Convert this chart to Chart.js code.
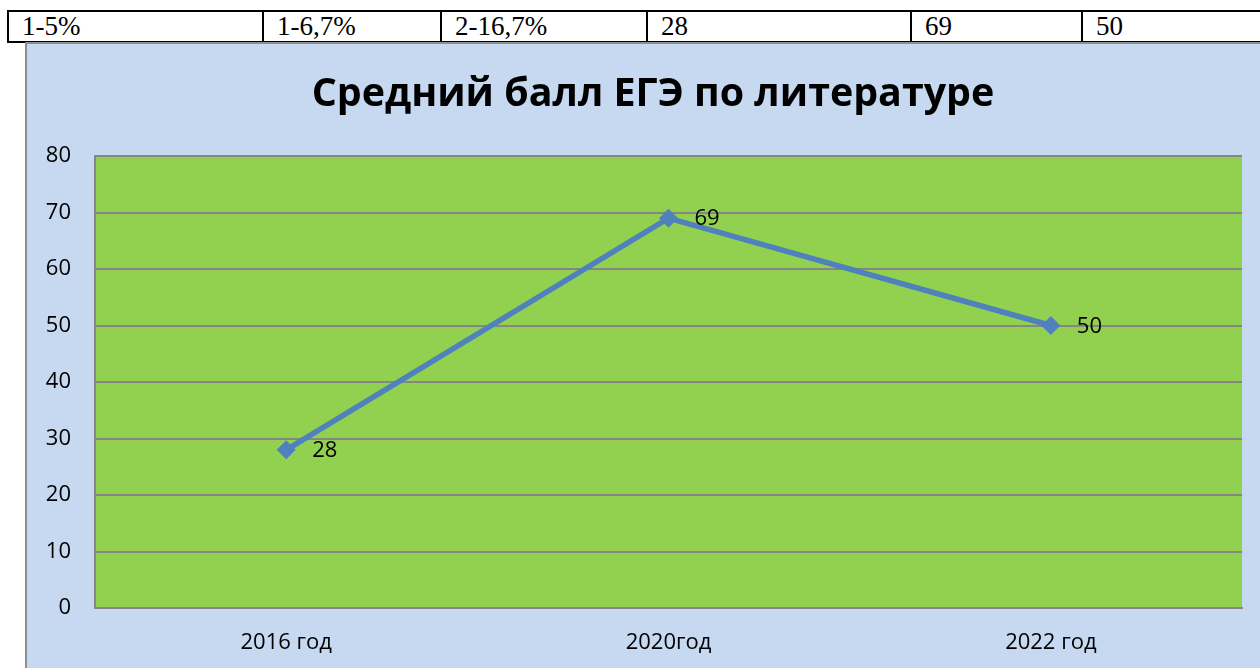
<html>
<head>
<meta charset="utf-8">
<title>Средний балл ЕГЭ по литературе</title>
<script src="https://cdn.jsdelivr.net/npm/chart.js@4"></script>
<style>
  body { margin: 0; background: #fff; overflow: hidden; width: 1260px; height: 668px; position: relative; }
  table.top { position: absolute; left: 7px; top: 10px; width: 1300px; border-collapse: collapse;
    font-family: "Liberation Serif", "Times New Roman", serif; font-size: 27px; }
  table.top td { border: 2px solid #000; padding: 0 0 0 13px; height: 29px; line-height: 29px; }
  #box { position: absolute; left: 25px; top: 42px; width: 1320px; height: 700px;
    background: #C6D9F1; border-left: 2px solid #8E8E8E; border-top: 2px solid #8E8E8E; }
  #wrap { position: absolute; left: 0; top: 0; width: 1252px; height: 624px; }
</style>
</head>
<body>
<table class="top">
  <tr>
    <td style="width:240px">1-5%</td>
    <td style="width:163px">1-6,7%</td>
    <td style="width:191px">2-16,7%</td>
    <td style="width:249px">28</td>
    <td style="width:156px">69</td>
    <td>50</td>
  </tr>
</table>
<div id="box">
  <div id="wrap"><canvas id="egeChart"></canvas></div>
</div>
<script>
var chartTitle = 'Средний балл ЕГЭ по литературе';
var years = ["2016 год", "2020год", "2022 год"];
var scores = [28, 69, 50];
var yMin = 0, yMax = 80, yStep = 10;

// green plot area
var plotBg = {
  id: 'plotBg',
  beforeDraw: function(chart) {
    var a = chart.chartArea, ctx = chart.ctx;
    ctx.save();
    ctx.fillStyle = '#92D050';
    ctx.fillRect(a.left, a.top, a.right - a.left, a.bottom - a.top);
    ctx.restore();
  }
};

// title centred on the whole chart box, not on the padded area
var centerTitle = {
  id: 'centerTitle',
  afterDraw: function(chart) {
    var ctx = chart.ctx;
    ctx.save();
    ctx.font = 'bold 39.4px "Open Sans"';
    ctx.fillStyle = '#000';
    ctx.textAlign = 'center';
    ctx.textBaseline = 'middle';
    ctx.fillText(chartTitle, chart.width / 2, 51);
    ctx.restore();
  }
};

// values to the right of each point
var valueLabels = {
  id: 'valueLabels',
  afterDatasetsDraw: function(chart) {
    var ctx = chart.ctx;
    var meta = chart.getDatasetMeta(0);
    ctx.save();
    ctx.font = '22px "Open Sans"';
    ctx.fillStyle = '#000';
    ctx.textAlign = 'left';
    ctx.textBaseline = 'middle';
    meta.data.forEach(function(pt, i) {
      ctx.fillText(String(scores[i]), pt.x + 26, pt.y + 1);
    });
    ctx.restore();
  }
};

Chart.defaults.font.family = '"Open Sans", sans-serif';
Chart.defaults.color = '#000';

var ctx = document.getElementById('egeChart').getContext('2d');
var egeChart = new Chart(ctx, {
  type: 'line',
  data: {
    labels: years,
    datasets: [{
      label: 'Средний балл',
      data: scores,
      borderColor: '#4F81BD',
      backgroundColor: '#4F81BD',
      borderWidth: 5.5,
      pointStyle: 'rectRot',
      pointRadius: 9,
      pointBorderWidth: 1,
      pointBackgroundColor: '#4F81BD',
      pointBorderColor: '#4F81BD',
      tension: 0
    }]
  },
  options: {
    responsive: true,
    maintainAspectRatio: false,
    animation: false,
    layout: { padding: { left: 0, right: 37, top: 112, bottom: 14 } },
    plugins: {
      legend: { display: false },
      tooltip: { enabled: false },
      title: { display: false }
    },
    scales: {
      x: {
        offset: true,
        grid: { display: false },
        border: { display: true, color: '#868686', width: 2 },
        ticks: { font: { size: 22 }, padding: 14, maxRotation: 0 },
        afterFit: function(scale) { scale.height = 46; }
      },
      y: {
        min: yMin,
        max: yMax,
        grid: { color: '#868686', lineWidth: 2, drawTicks: false },
        border: { display: true, color: '#868686', width: 2 },
        ticks: { stepSize: yStep, font: { size: 22 }, padding: 24 },
        afterFit: function(scale) { scale.width = 68; }
      }
    }
  },
  plugins: [plotBg, centerTitle, valueLabels]
});
</script>
</body>
</html>
